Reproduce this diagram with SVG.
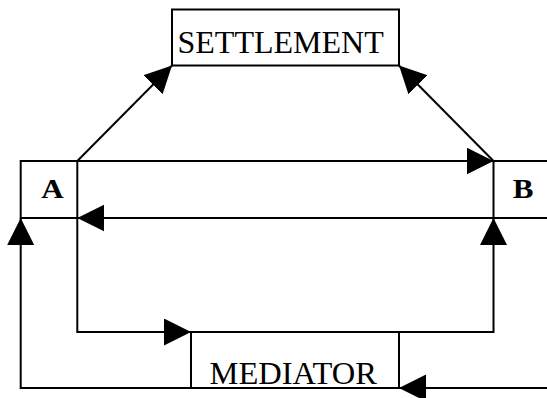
<svg xmlns="http://www.w3.org/2000/svg" width="547" height="398" viewBox="0 0 547 398">
<style>
.box{fill:#fff;stroke:#000;stroke-width:2}
.lbl{font-family:"Liberation Serif","Times New Roman",serif;font-size:32px;fill:#000}
.bold{font-family:"Liberation Serif","Times New Roman",serif;font-size:27px;font-weight:bold;fill:#000}
.conn{fill:none;stroke:#000;stroke-width:2}
</style>
<defs>
<marker id="ah" markerUnits="userSpaceOnUse" markerWidth="28" markerHeight="28" refX="27" refY="13.5" orient="auto" viewBox="0 0 28 28">
<path d="M0,0 L27,13.5 L0,27 z" fill="#000"/>
</marker>
</defs>
<rect width="547" height="398" fill="#fff"/>
<g id="settlement">
<rect class="box" x="172" y="9.5" width="227" height="56"/>
<text class="lbl" x="177.5" y="53">SETTLEMENT</text>
</g>
<g id="a">
<rect class="box" x="20.7" y="161" width="56.6" height="57"/>
<text class="bold" transform="translate(52.5,198) scale(1.15,1)" text-anchor="middle">A</text>
</g>
<g id="b">
<rect class="box" x="493.5" y="161" width="70" height="57"/>
<text class="bold" transform="translate(523,198) scale(1.15,1)" text-anchor="middle">B</text>
</g>
<g id="mediator">
<rect class="box" x="191" y="332" width="208" height="56"/>
<text class="lbl" x="209.5" y="383.5" style="font-size:32.5px">MEDIATOR</text>
</g>
<g id="connectors">
<path class="conn" d="M77.3,161 L493.5,161" marker-end="url(#ah)"/>
<path class="conn" d="M547,218 L77.3,218" marker-end="url(#ah)"/>
<path class="conn" d="M77.3,161 L172,65.5" marker-end="url(#ah)"/>
<path class="conn" d="M493.5,161 L399,65.5" marker-end="url(#ah)"/>
<path class="conn" d="M77.3,218 L77.3,332 L191,332" marker-end="url(#ah)"/>
<path class="conn" d="M399,332 L493.5,332 L493.5,218" marker-end="url(#ah)"/>
<path class="conn" d="M191,388 L20.7,388 L20.7,218" marker-end="url(#ah)"/>
<path class="conn" d="M547,388 L399,388" marker-end="url(#ah)"/>
</g>
</svg>
